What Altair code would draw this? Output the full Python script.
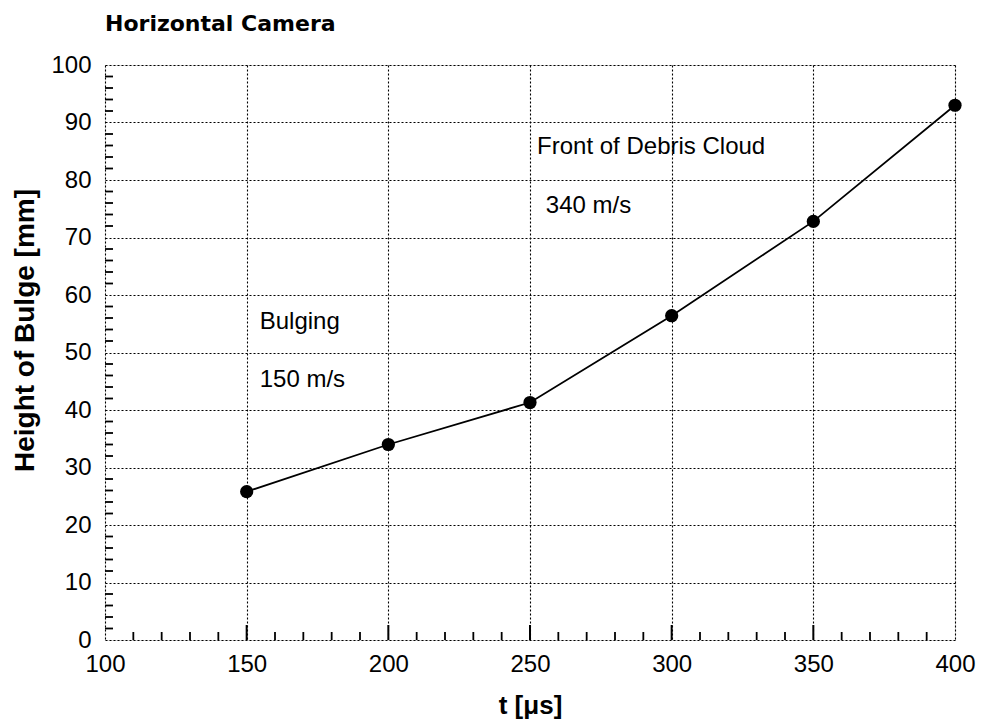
import altair as alt
import pandas as pd

# ---- data ----
t_us = [150, 200, 250, 300, 350, 400]
height_mm = [25.8, 34.0, 41.3, 56.4, 72.8, 93.0]

x_ticks = [100, 150, 200, 250, 300, 350, 400]
y_ticks = [0, 10, 20, 30, 40, 50, 60, 70, 80, 90, 100]
x_minor = [110, 120, 130, 140, 160, 170, 180, 190, 210, 220, 230, 240,
           260, 270, 280, 290, 310, 320, 330, 340, 360, 370, 380, 390]
y_minor = [2, 4, 6, 8, 12, 14, 16, 18, 22, 24, 26, 28, 32, 34, 36, 38,
           42, 44, 46, 48, 52, 54, 56, 58, 62, 64, 66, 68, 72, 74, 76, 78,
           82, 84, 86, 88, 92, 94, 96, 98]

note_text = ["Front of Debris Cloud", "340 m/s", "Bulging", "150 m/s"]
note_x = [252.5, 255.6, 154.6, 154.6]
note_y = [85.7, 75.5, 55.3, 45.2]

W, H = 850, 575
FONT = "Liberation Sans"

df = pd.DataFrame({"t": t_us, "h": height_mm})
notes = pd.DataFrame({"label": note_text, "x": note_x, "y": note_y})
xm = pd.DataFrame({"x": x_minor})
xM = pd.DataFrame({"x": x_ticks[1:-1]})
ym = pd.DataFrame({"y": y_minor})

xscale = alt.Scale(domain=[100, 400], nice=False, zero=False)
yscale = alt.Scale(domain=[0, 100], nice=False, zero=False)

xaxis = alt.Axis(values=x_ticks, title="t [μs]", grid=True, ticks=False, domain=False,
                 labelFlush=False, labelOverlap=False,
                 labelFontSize=24, labelPadding=12, labelFont=FONT, labelColor="black",
                 titleFont=FONT, titleFontSize=26, titleFontWeight="bold", titleColor="black",
                 titleX=W / 2, titleY=65, titleBaseline="middle",
                 gridColor="black", gridDash=[2, 2], gridWidth=1.1, gridOpacity=1)
yaxis = alt.Axis(values=y_ticks, title="Height of Bulge [mm]", grid=True, ticks=False, domain=False,
                 labelFlush=False, labelOverlap=False,
                 labelFontSize=24, labelPadding=14, labelFont=FONT, labelColor="black",
                 titleFont=FONT, titleFontSize=28, titleFontWeight="bold", titleColor="black",
                 titleAngle=-90, titleX=-80, titleY=265, titleBaseline="middle", titleAlign="center",
                 gridColor="black", gridDash=[2, 2], gridWidth=1.1, gridOpacity=1)

base = alt.Chart(df)

line = base.mark_line(color="black", strokeWidth=1.8).encode(
    x=alt.X("t:Q", scale=xscale, axis=xaxis),
    y=alt.Y("h:Q", scale=yscale, axis=yaxis),
)
pts = base.mark_point(filled=True, color="black", size=175, opacity=1).encode(
    x=alt.X("t:Q", scale=xscale), y=alt.Y("h:Q", scale=yscale)
)

xminor_ticks = alt.Chart(xm).mark_rule(color="black", strokeWidth=1.8).encode(
    x=alt.X("x:Q", scale=xscale), y=alt.value(H), y2=alt.value(H - 8)
)
xmajor_ticks = alt.Chart(xM).mark_rule(color="black", strokeWidth=2).encode(
    x=alt.X("x:Q", scale=xscale), y=alt.value(H), y2=alt.value(H - 15)
)
yminor_ticks = alt.Chart(ym).mark_rule(color="black", strokeWidth=1.8).encode(
    y=alt.Y("y:Q", scale=yscale), x=alt.value(0), x2=alt.value(8)
)

text = alt.Chart(notes).mark_text(align="left", baseline="middle", fontSize=24,
                                  font=FONT, color="black").encode(
    x=alt.X("x:Q", scale=xscale), y=alt.Y("y:Q", scale=yscale), text="label:N"
)

chart = alt.layer(line, xminor_ticks, xmajor_ticks, yminor_ticks, pts, text).properties(
    width=W, height=H,
    title=alt.TitleParams("Horizontal Camera", anchor="start", frame="group", fontSize=22,
                          fontWeight="bold", font="DejaVu Sans", color="black", offset=17),
    autosize=alt.AutoSizeParams(type="none"),
    padding={"left": 97, "top": 57, "right": 21, "bottom": 80},
).configure_view(stroke="black", strokeWidth=2).configure(background="white")

chart.save("out.html", embed_options={"renderer": "svg", "actions": False})
